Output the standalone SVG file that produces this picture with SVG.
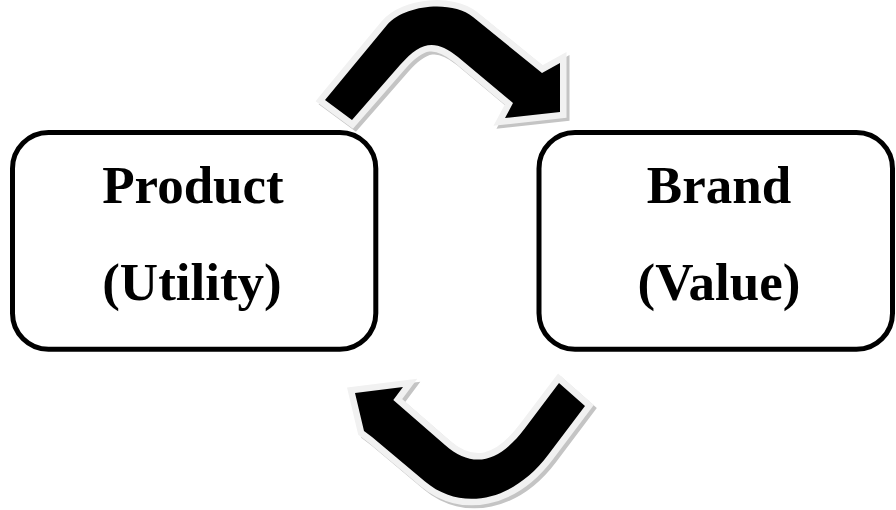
<svg xmlns="http://www.w3.org/2000/svg" width="896" height="510" viewBox="0 0 896 510">
<style>
.box{fill:#fff;stroke:#000;stroke-width:5}
.lbl{font-family:"Liberation Serif","Times New Roman",serif;font-weight:bold;font-size:53px;fill:#000;text-anchor:middle}
.shadow{fill:#c4c4c4;stroke:#c4c4c4;stroke-width:13;stroke-linejoin:miter}
.ring{fill:#f1f1f1;stroke:#f1f1f1;stroke-width:13;stroke-linejoin:miter}
.body{fill:#000}
</style>
<defs>
<path id="topArrow" d="M325,100 L387,25 C404.8,4.5 452.1,0.1 473,17 L542,73 L560,63 L560,112 L505,118 L513,103 L458,57 C435.5,38.8 421,40.8 400,65 L352,120 Z"/>
<path id="botArrow" d="M559,383 L585,406 L548,455.1 C513.3,501.2 461.7,512.3 425,481.5 L372,437 L364,431 L355,393 L403,387 L393.3,400 L445,444.9 C472.7,469 498.3,463.5 525.1,428 Z"/>
</defs>
<g id="connectors">
<g id="arrow-product-to-brand">
<use href="#topArrow" class="shadow" transform="translate(3,3)"/>
<use href="#topArrow" class="ring"/>
<use href="#topArrow" class="body"/>
</g>
<g id="arrow-brand-to-product">
<use href="#botArrow" class="shadow" transform="translate(3,3)"/>
<use href="#botArrow" class="ring"/>
<use href="#botArrow" class="body"/>
</g>
</g>
<g id="node-product">
<rect class="box" x="12.5" y="132.5" width="363.3" height="216.7" rx="36"/>
<text class="lbl" x="193" y="203">Product</text>
<text class="lbl" x="192" y="300">(Utility)</text>
</g>
<g id="node-brand">
<rect class="box" x="539" y="132.5" width="353.5" height="216.7" rx="36"/>
<text class="lbl" x="719" y="203">Brand</text>
<text class="lbl" x="719" y="300">(Value)</text>
</g>
</svg>
